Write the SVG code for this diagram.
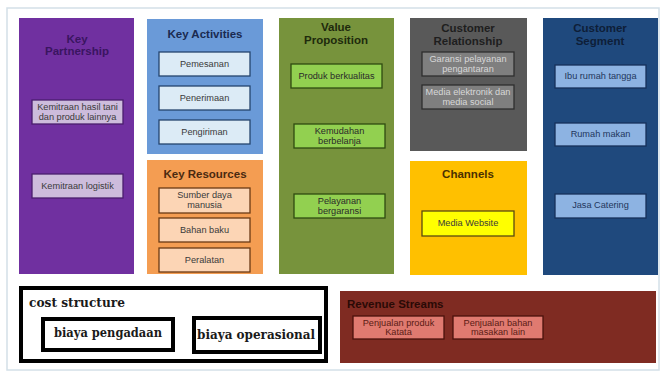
<svg xmlns="http://www.w3.org/2000/svg" width="661" height="373" viewBox="0 0 661 373">
<style>
.t{font-family:"Liberation Sans",Arial,sans-serif;font-weight:bold;font-size:11.5px;text-anchor:middle}
.s{font-family:"Liberation Sans",Arial,sans-serif;font-size:9.2px;text-anchor:middle}
.c{font-family:"DejaVu Serif","Liberation Serif",serif;font-weight:bold;font-size:12px}
.sb{stroke-width:1.3}
</style>
<rect x="7" y="8" width="652" height="362" fill="#ffffff" stroke="#d3e0e8" stroke-width="1.5"/>
<g id="connectors"/>
<g id="key-partnership">
<rect x="19" y="18" width="115" height="256" fill="#7030a0"/>
<text class="t" x="77" y="43" fill="#3a1560">Key</text>
<text class="t" x="77" y="55" fill="#3a1560">Partnership</text>
<rect class="sb" x="32" y="100" width="91" height="24" fill="#cdbcdc" stroke="#4a1e6e"/>
<text class="s" x="77.5" y="110" fill="#3a3a3a">Kemitraan hasil tani</text>
<text class="s" x="77.5" y="120" fill="#3a3a3a">dan produk lainnya</text>
<rect class="sb" x="32" y="174" width="91" height="24" fill="#cdbcdc" stroke="#4a1e6e"/>
<text class="s" x="77.5" y="189" fill="#3a3a3a">Kemitraan logistik</text>
</g>
<g id="key-activities">
<rect x="147" y="19" width="116" height="135" fill="#6a9ad8"/>
<text class="t" x="205" y="38" fill="#1a2a50">Key Activities</text>
<rect class="sb" x="159" y="52" width="91" height="24" fill="#dcebf6" stroke="#24446e"/>
<text class="s" x="204.5" y="67" fill="#3a3a3a">Pemesanan</text>
<rect class="sb" x="159" y="86" width="91" height="24" fill="#dcebf6" stroke="#24446e"/>
<text class="s" x="204.5" y="101" fill="#3a3a3a">Penerimaan</text>
<rect class="sb" x="159" y="120" width="91" height="24" fill="#dcebf6" stroke="#24446e"/>
<text class="s" x="204.5" y="135" fill="#3a3a3a">Pengiriman</text>
</g>
<g id="key-resources">
<rect x="147" y="160" width="116" height="114" fill="#f49d52"/>
<text class="t" x="205" y="178" fill="#4a2a10">Key Resources</text>
<rect class="sb" x="159" y="188" width="91" height="25" fill="#fcd5b5" stroke="#6a3a14"/>
<text class="s" x="204.5" y="198" fill="#3a3a3a">Sumber daya</text>
<text class="s" x="204.5" y="208" fill="#3a3a3a">manusia</text>
<rect class="sb" x="159" y="218" width="91" height="24" fill="#fcd5b5" stroke="#6a3a14"/>
<text class="s" x="204.5" y="233" fill="#3a3a3a">Bahan baku</text>
<rect class="sb" x="159" y="248" width="91" height="24" fill="#fcd5b5" stroke="#6a3a14"/>
<text class="s" x="204.5" y="263" fill="#3a3a3a">Peralatan</text>
</g>
<g id="value-proposition">
<rect x="279" y="18" width="115" height="256" fill="#77933c"/>
<text class="t" x="336" y="31" fill="#1e2a0c">Value</text>
<text class="t" x="336" y="44" fill="#1e2a0c">Proposition</text>
<rect class="sb" x="291" y="64" width="91" height="24" fill="#92d050" stroke="#2e4a10"/>
<text class="s" x="336.5" y="79" fill="#2a2a2a">Produk berkualitas</text>
<rect class="sb" x="294" y="124" width="91" height="24" fill="#92d050" stroke="#2e4a10"/>
<text class="s" x="339.5" y="134" fill="#2a2a2a">Kemudahan</text>
<text class="s" x="339.5" y="144" fill="#2a2a2a">berbelanja</text>
<rect class="sb" x="294" y="194" width="91" height="24" fill="#92d050" stroke="#2e4a10"/>
<text class="s" x="339.5" y="204" fill="#2a2a2a">Pelayanan</text>
<text class="s" x="339.5" y="214" fill="#2a2a2a">bergaransi</text>
</g>
<g id="customer-relationship">
<rect x="410" y="18" width="117" height="133" fill="#595959"/>
<text class="t" x="468" y="32" fill="#1e1e1e">Customer</text>
<text class="t" x="468" y="45" fill="#1e1e1e">Relationship</text>
<rect class="sb" x="422" y="52" width="92" height="24" fill="#7f7f7f" stroke="#2e2e2e"/>
<text class="s" x="468" y="62" fill="#d8d8d8">Garansi pelayanan</text>
<text class="s" x="468" y="72" fill="#d8d8d8">pengantaran</text>
<rect class="sb" x="422" y="85" width="92" height="24" fill="#7f7f7f" stroke="#2e2e2e"/>
<text class="s" x="468" y="95" fill="#d8d8d8">Media elektronik dan</text>
<text class="s" x="468" y="105" fill="#d8d8d8">media social</text>
</g>
<g id="channels">
<rect x="410" y="161" width="117" height="114" fill="#ffc000"/>
<text class="t" x="468" y="178" fill="#4a3000">Channels</text>
<rect class="sb" x="422" y="211" width="92" height="25" fill="#ffff00" stroke="#5a4a10"/>
<text class="s" x="468" y="226" fill="#3a3a3a">Media Website</text>
</g>
<g id="customer-segment">
<rect x="543" y="18" width="115" height="257" fill="#1f497d"/>
<text class="t" x="600" y="32" fill="#0e1e38">Customer</text>
<text class="t" x="600" y="45" fill="#0e1e38">Segment</text>
<rect class="sb" x="555" y="65" width="91" height="23" fill="#8db3e2" stroke="#16305a"/>
<text class="s" x="600.5" y="79" fill="#22365c">Ibu rumah tangga</text>
<rect class="sb" x="555" y="123" width="91" height="23" fill="#8db3e2" stroke="#16305a"/>
<text class="s" x="600.5" y="137" fill="#22365c">Rumah makan</text>
<rect class="sb" x="555" y="194" width="91" height="24" fill="#8db3e2" stroke="#16305a"/>
<text class="s" x="600.5" y="208" fill="#22365c">Jasa Catering</text>
</g>
<g id="cost-structure">
<rect x="21" y="288" width="305" height="73" fill="#ffffff" stroke="#000000" stroke-width="4"/>
<text class="c" x="29" y="307" fill="#1a1a1a" textLength="96" lengthAdjust="spacingAndGlyphs">cost structure</text>
<g id="biaya-pengadaan">
<rect x="43" y="319" width="130" height="31" fill="#ffffff" stroke="#000000" stroke-width="4"/>
<text class="c" x="54" y="337" fill="#1a1a1a" textLength="108" lengthAdjust="spacingAndGlyphs">biaya pengadaan</text>
</g>
<g id="biaya-operasional">
<rect x="194" y="318" width="126" height="34" fill="#ffffff" stroke="#000000" stroke-width="4"/>
<text class="c" x="197" y="339" fill="#1a1a1a" textLength="118" lengthAdjust="spacingAndGlyphs">biaya operasional</text>
</g>
</g>
<g id="revenue-streams">
<rect x="340" y="291" width="316" height="72" fill="#7f2b22"/>
<text class="t" x="347" y="308" fill="#2a0a06" style="text-anchor:start">Revenue Streams</text>
<rect class="sb" x="353" y="316" width="91" height="23" fill="#e07a70" stroke="#4a120c"/>
<text class="s" x="398.5" y="326" fill="#5a1a14">Penjualan produk</text>
<text class="s" x="398.5" y="335" fill="#5a1a14">Katata</text>
<rect class="sb" x="453" y="316" width="90" height="23" fill="#e07a70" stroke="#4a120c"/>
<text class="s" x="498" y="326" fill="#5a1a14">Penjualan bahan</text>
<text class="s" x="498" y="335" fill="#5a1a14">masakan lain</text>
</g>
</svg>
